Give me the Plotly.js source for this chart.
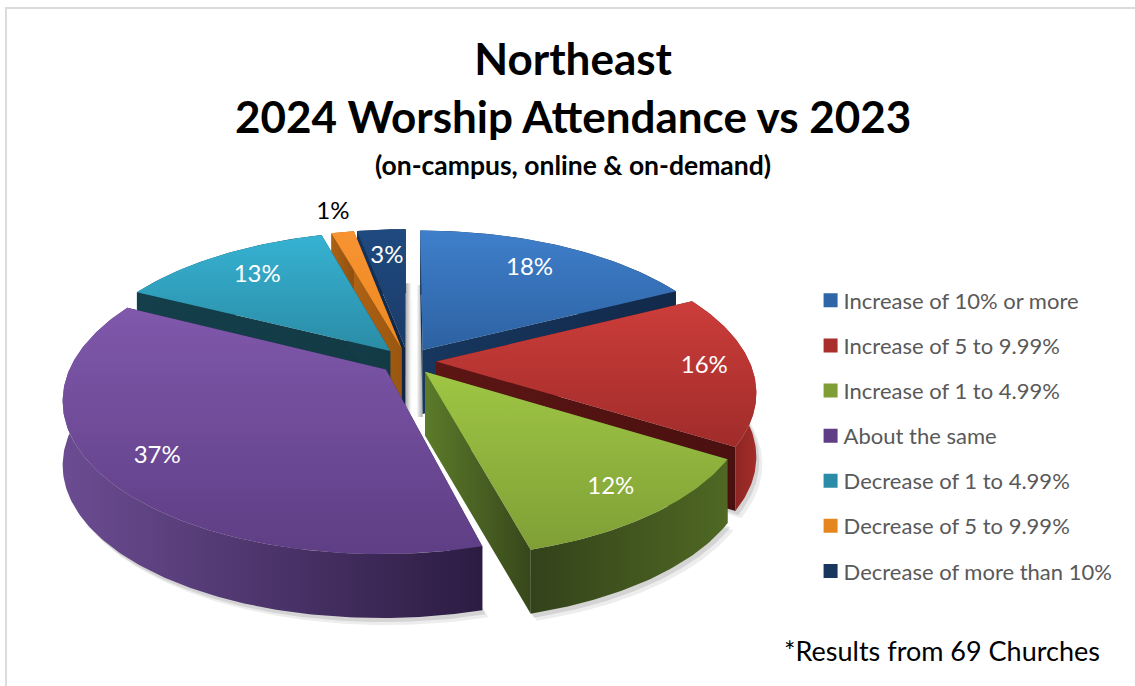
<!DOCTYPE html>
<html>
<head>
<meta charset="utf-8">
<script src="https://cdn.plot.ly/plotly-3.0.1.min.js"></script>
<style>html,body{margin:0;padding:0;background:#fff}#chart{width:1135px;height:686px}</style>
</head>
<body>
<div id="chart"></div>
<script>
const categories = ["Increase of 10% or more","Increase of 5 to 9.99%","Increase of 1 to 4.99%","About the same","Decrease of 1 to 4.99%","Decrease of 5 to 9.99%","Decrease of more than 10%"];
const percents = [17.6,16.2,12.0,36.6,13.2,1.4,3.0];
const topLight = ["#3f7fcb","#cc3d3a","#9fc644","#8058ac","#36b2d2","#f79331","#1f4a80"];
const topDark  = ["#2d62a2","#a02c2a","#7f9f36","#5e3e84","#2a8ca6","#ee8a22","#1b3b68"];
const radialA  = ["#17375e","#5c1614","#5c7b2a","#2c1c42","#143f4b","#ad6214","#17335c"];
const radialB  = ["#12294a","#4a100f","#37471b","#2c1c42","#123a45","#9a5610","#0f2542"];
const outerLeft  = ["#17375e","#5c1614","#33421a","#6b4c92","#143f4b","#ad6214","#17335c"];
const outerRight = ["#12294a","#a42d2a","#4f6823","#2c1c42","#123a45","#8f5010","#0f2542"];
const labelColors = ["#ffffff","#ffffff","#ffffff","#ffffff","#ffffff","#000000","#ffffff"];
const labelRadius = [0.75,0.85,0.84,0.83,0.76,1.20,0.74];
const legendSwatch = ["#2f66a8","#a82f2c","#7f9f36","#5e3e84","#2a8ca6","#e5861f","#17375e"];
const paintSteps = [[6,'walls'],[6,'top'],[5,'walls'],[4,'walls'],[4,'top'],[5,'top'],[0,'walls'],[0,'top'],[1,'walls'],[1,'top'],[3,'walls'],[3,'top'],[2,'walls'],[2,'top']];

// Perspective view of the tilted pie
const cx=408, cy=361, rx=313, ry=146, k=0.19, explode=0.09, depth=64;
function proj(u,v,z){const d=1-k*v;return [cx+rx*u/d, cy+ry*v/d+(z?depth:0)];}
const turn=p=>p/100*2*Math.PI;
let cum=0;
const slices=percents.map(p=>{const s=cum;cum+=p;return {a0:turn(s),a1:turn(cum),mid:turn(s+p/2)};});
function arc(s){const pts=[];const n=Math.max(4,Math.ceil((s.a1-s.a0)/0.015));for(let i=0;i<=n;i++){const a=s.a0+(s.a1-s.a0)*i/n;pts.push([Math.sin(a),-Math.cos(a)]);}return pts;}
function plane(s,u,v){return [u+explode*Math.sin(s.mid),v-explode*Math.cos(s.mid)];}
function poly(pts,c1,gradType,c2){
  const xs=pts.map(p=>p[0]),ys=pts.map(p=>p[1]);xs.push(xs[0]);ys.push(ys[0]);
  return {type:'scatter',mode:'lines',x:xs,y:ys,fill:'toself',line:{width:0,color:c1},
    fillgradient:{type:gradType,colorscale:[[0,c1],[1,c2]]},hoverinfo:'skip',showlegend:false};
}
const traces=[];
// soft shadow under the pie and in the gap at the back
[0,1,2,3,4,5,6].forEach(i=>{const s=slices[i];
  const a=arc(s).map(p=>plane(s,p[0],p[1]));const c=plane(s,0,0);
  const base=[c,...a].map(p=>proj(p[0],p[1],1));
  [[6,7,0.07],[3,4,0.10]].forEach(o=>{
    const xs=base.map(p=>p[0]+o[0]),ys=base.map(p=>p[1]+o[1]);xs.push(xs[0]);ys.push(ys[0]);
    traces.push({type:'scatter',mode:'lines',x:xs,y:ys,fill:'toself',fillcolor:'rgba(0,0,0,'+o[2]+')',line:{width:0},hoverinfo:'skip',showlegend:false});
  });
});
const gapL=proj(...plane(slices[6],0,0),0), gapR=proj(...plane(slices[0],0,0),0);
traces.push(poly([[gapL[0],gapL[1]-65],[gapL[0]+6,gapL[1]-65],[gapL[0]+6,gapL[1]+depth+3],[gapL[0],gapL[1]+depth+3]],'#a8a8a8','horizontal','#ffffff'));
traces.push(poly([[gapR[0]-6,gapR[1]-65],[gapR[0],gapR[1]-65],[gapR[0],gapR[1]+depth+3],[gapR[0]-6,gapR[1]+depth+3]],'#ffffff','horizontal','#a8a8a8'));
paintSteps.forEach(step=>{const i=step[0],s=slices[i];
  const c=plane(s,0,0), a=arc(s).map(p=>plane(s,p[0],p[1]));
  const up=a.map(p=>proj(p[0],p[1],0));
  if(step[1]==='walls'){
    [a[0],a[a.length-1]].forEach(e=>{
      const w=[proj(c[0],c[1],0),proj(e[0],e[1],0),proj(e[0],e[1],1),proj(c[0],c[1],1)];
      traces.push(poly(w,radialA[i],'horizontal',radialB[i]));
    });
    const dn=a.map(p=>proj(p[0],p[1],1)).reverse();
    traces.push(poly(up.concat(dn),outerLeft[i],'horizontal',outerRight[i]));
  } else {
    traces.push(poly([proj(c[0],c[1],0),...up],topDark[i],'vertical',topLight[i]));
  }
});
// data labels
const lx=[],ly=[];
slices.forEach((s,i)=>{const R=labelRadius[i]+explode;const p=proj(R*Math.sin(s.mid),-R*Math.cos(s.mid),0);lx.push(p[0]);ly.push(p[1]);});
traces.push({type:'scatter',mode:'text',x:lx,y:ly,text:percents.map(p=>Math.round(p)+'%'),textposition:'middle center',
  textfont:{family:'Lato',size:24,color:labelColors},hoverinfo:'skip',showlegend:false});
// legend entries
categories.forEach((c,i)=>traces.push({type:'scatter',mode:'markers',x:[null],y:[null],name:c,legendgroup:c,
  marker:{symbol:'square',size:14,color:legendSwatch[i]},hoverinfo:'skip'}));

const layout={
  width:1135,height:686,margin:{l:0,r:0,t:0,b:0},paper_bgcolor:'#fff',plot_bgcolor:'#fff',
  xaxis:{range:[0,1135],visible:false,fixedrange:true,domain:[0,1]},
  yaxis:{range:[686,0],visible:false,fixedrange:true,domain:[0,1]},
  font:{family:'Lato'},
  title:{text:'Northeast<br>2024 Worship Attendance vs 2023',x:0.505,xanchor:'center',y:0.89,yanchor:'top',
    font:{family:'Lato',size:44,color:'#000',weight:700}},
  legend:{x:0.708,xanchor:'left',y:0.5925,yanchor:'top',traceorder:'grouped',tracegroupgap:13.5,bgcolor:'rgba(0,0,0,0)',
    font:{family:'Lato',size:22,color:'#595959'},itemclick:false,itemdoubleclick:false},
  annotations:[
    {text:'<b>(on-campus, online &amp; on-demand)</b>',x:572.5,y:165,xref:'x',yref:'y',showarrow:false,xanchor:'center',yanchor:'middle',font:{family:'Lato',size:26.5,color:'#000'}},
    {text:'*Results from 69 Churches',x:942,y:650,xref:'x',yref:'y',showarrow:false,xanchor:'center',yanchor:'middle',font:{family:'Lato',size:27,color:'#000'}}
  ],
  shapes:[{type:'rect',xref:'x',yref:'y',x0:6,y0:8,x1:1145,y1:700,line:{color:'#dcdcdc',width:2},layer:'below'}],
  showlegend:true
};
Plotly.newPlot('chart',traces,layout,{displayModeBar:false}).then(()=>{
  document.querySelectorAll('#chart .legend .legendsymbols').forEach(n=>n.setAttribute('transform','translate(7,0)'));
});
</script>
</body>
</html>
